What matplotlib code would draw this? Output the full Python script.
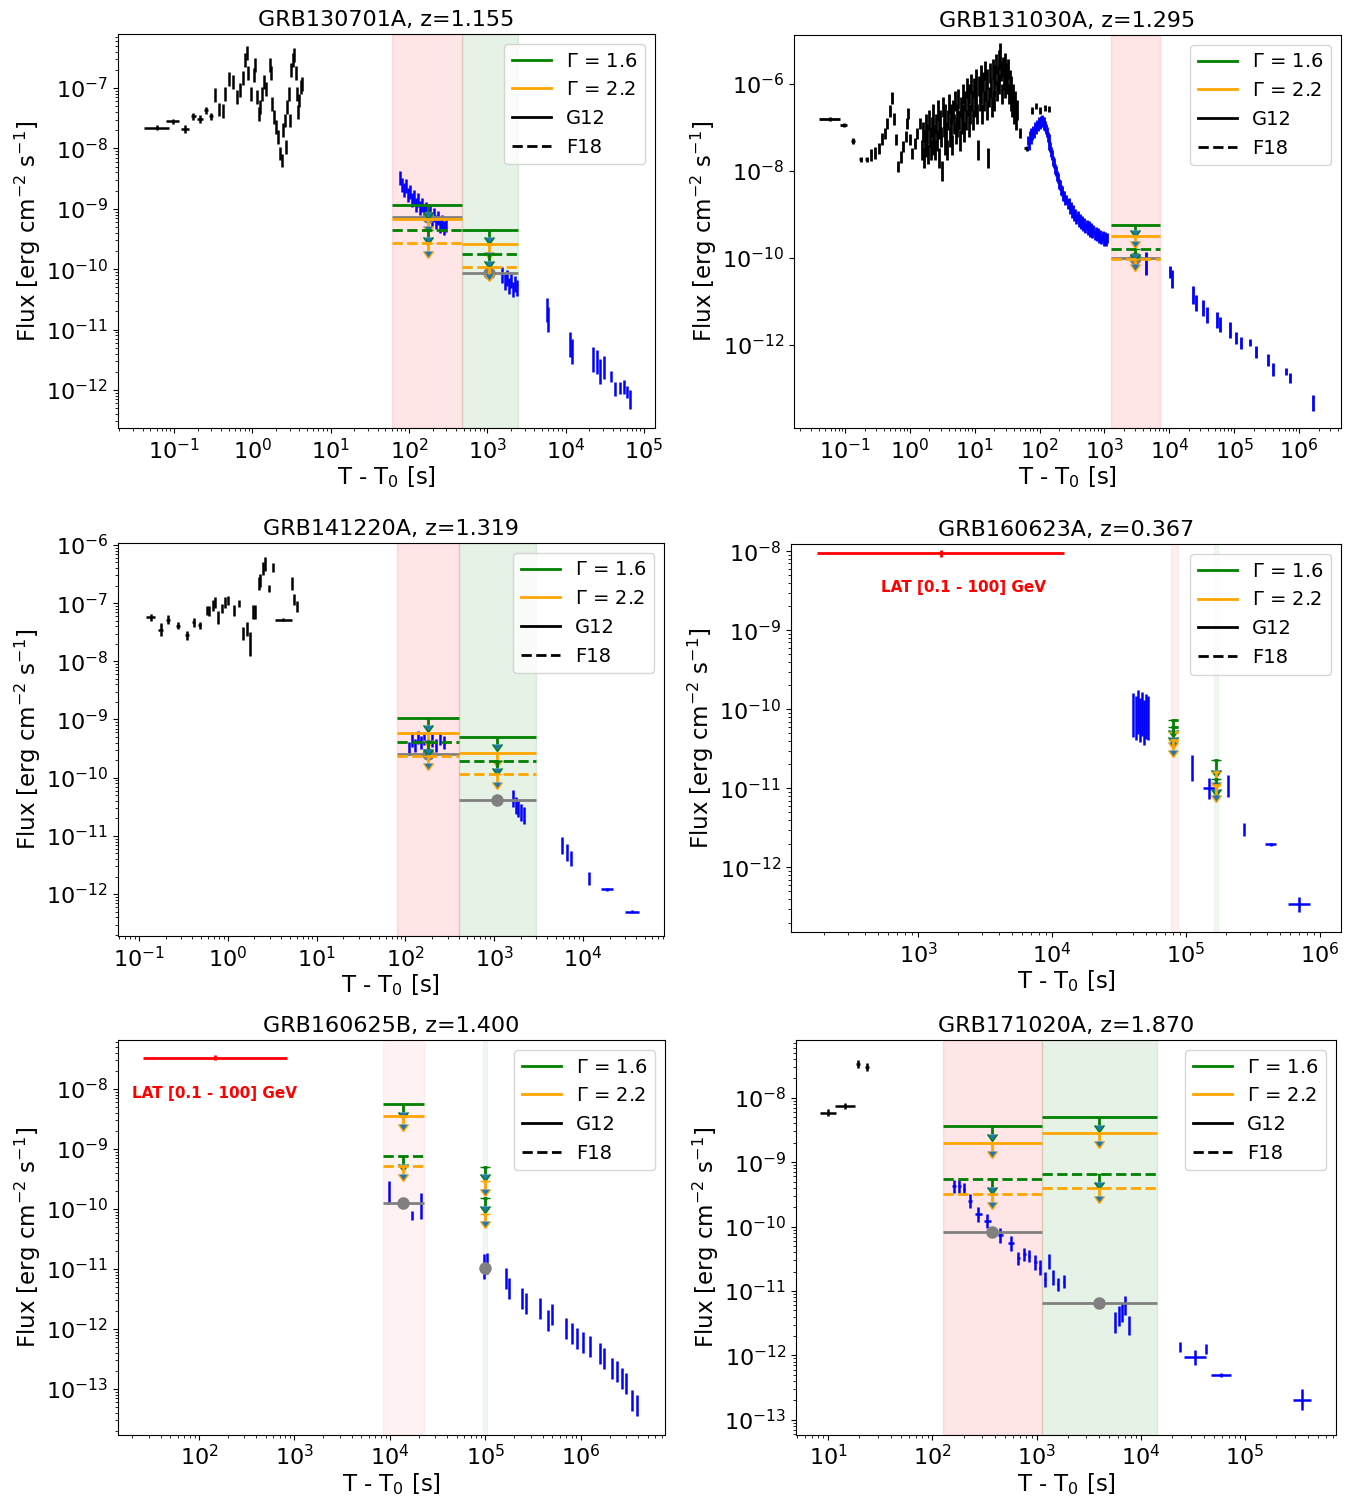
import numpy as np
import matplotlib.pyplot as plt
from matplotlib.lines import Line2D

plt.rcParams['font.size'] = 16

# ---------------- GRB130701A ----------------
p1_bat_t = [0.060, 0.096, 0.139, 0.176, 0.215, 0.256, 0.294, 0.337, 0.372, 0.419,
            0.452, 0.508, 0.57, 0.63, 0.70, 0.77, 0.81, 0.85, 0.89, 0.96,
            1.04, 1.08, 1.15, 1.22, 1.27, 1.34, 1.42, 1.50, 1.66, 1.73,
            1.80, 1.91, 2.0, 2.16, 2.28, 2.37, 2.46, 2.61, 2.67, 2.78,
            2.90, 3.0, 3.15, 3.3, 3.44, 3.6, 3.7, 3.86, 4.0, 4.15, 4.3]
p1_bat_f = [2.2e-8, 2.8e-8, 2.1e-8, 3.4e-8, 3.05e-8, 4.25e-8, 3.4e-8, 7.7e-8, 4.4e-8, 4.15e-8,
            8.0e-8, 1.39e-7, 1.26e-7, 7.2e-8, 9.3e-8, 1.48e-7, 2.9e-7, 3.8e-7, 1.75e-7, 8.0e-8,
            1.64e-7, 2.4e-7, 7.1e-8, 3.75e-8, 4.8e-8, 8e-8, 1.26e-7, 9.7e-8, 2.4e-7, 1.75e-7,
            5.5e-8, 3.3e-8, 2.25e-8, 1.55e-8, 8.2e-9, 6.3e-9, 2.0e-8, 2.9e-8, 1.05e-8, 4.8e-8,
            8e-8, 2.9e-8, 2.0e-7, 2.9e-7, 3.5e-7, 1.75e-7, 8e-8, 4.0e-8, 6.2e-8, 1.03e-7, 1.17e-7]
p1_bat_dt = [1.45, 1.2, 1.12, 1.08, 1.08, 1.07, 1.06] + [1.0] * 44
p1_bat_df = [1.1, 1.1, 1.15, 1.15, 1.15, 1.15, 1.15] + [1.3] * 44

p1_xrt_t = [76.7, 81.5, 86.3, 91.6, 97.1, 103, 109, 116, 123, 130, 138, 147, 155, 165,
            175, 185, 197, 209, 221, 235, 249, 264, 280, 297,
            1540, 1680, 1790, 1890, 2010, 2130, 2260, 2390,
            5780, 5960, 11400, 12100, 22400, 25200, 27500,
            30700, 38000, 42800, 49500, 55200, 60300, 66400]
p1_xrt_f = [3.26e-9, 2.5e-9, 2.07e-9, 2.4e-9, 1.7e-9, 1.9e-9, 1.41e-9, 1.58e-9, 1.16e-9, 1.41e-9,
            1.04e-9, 1.16e-9, 8.9e-10, 1.0e-9, 7.66e-10, 8.9e-10, 6.8e-10, 7.9e-10, 6.1e-10, 7.1e-10,
            5.2e-10, 6.1e-10, 4.8e-10, 5.4e-10,
            8.1e-11, 6.2e-11, 7.2e-11, 5.3e-11, 6.7e-11, 4.6e-11, 5.7e-11, 4.9e-11,
            2.1e-11, 1.45e-11, 5.6e-12, 4.3e-12, 3.16e-12, 2.9e-12, 2.0e-12,
            2.33e-12, 1.66e-12, 1.05e-12, 1.09e-12, 1.13e-12, 9.3e-13, 6.9e-13]
p1_xrt_df = [1.3] * 24 + [1.35] * 8 + [1.6] * 7 + [1.55, 1.25, 1.3, 1.25, 1.3, 1.25, 1.45]

p1_edges = [(60, 475), (475, 2500)]
p1_g16 = [1.17e-9, 4.5e-10]
p1_g22 = [6.8e-10, 2.6e-10]
p1_g16_f18 = [4.5e-10, 1.8e-10]
p1_g22_f18 = [2.7e-10, 1.1e-10]
p1_obs_t = [175, 1060]
p1_obs_f = [7.4e-10, 8.6e-11]

# ---------------- GRB131030A ----------------
p2_bat_t = [0.058, 0.096, 0.134, 0.174, 0.215, 0.254, 0.286, 0.33, 0.376, 0.41,
            0.45, 0.49, 0.53, 0.57, 0.61, 0.66, 0.72, 0.79, 0.86, 0.91,
            0.93, 1.0, 1.09, 1.19, 1.30, 1.43,
            1.55, 1.6, 1.65, 1.7, 1.75, 1.8, 1.86, 1.92, 1.98, 2.04,
            2.1, 2.17, 2.24, 2.31, 2.38, 2.45, 2.53, 2.61, 2.69, 2.77,
            2.86, 2.95, 3.04, 3.13, 3.23, 3.33, 3.43, 3.54, 3.65, 3.76,
            3.88, 4.0, 4.12, 4.25, 4.38, 4.52, 4.66, 4.8, 4.95, 5.1,
            5.26, 5.42, 5.59, 5.76, 5.94, 6.12, 6.31, 6.51, 6.71, 6.92,
            7.13, 7.35, 7.58, 7.81, 8.05, 8.3, 8.56, 8.83, 9.1, 9.38,
            9.67, 9.97, 10.3, 10.6, 10.9, 11.3, 11.6, 12.0, 12.3, 12.7,
            13.1, 13.5, 13.9, 14.4, 14.8, 15.3, 15.7, 16.2, 16.7, 17.2,
            17.8, 18.3, 18.9, 19.5, 20.1, 20.7, 21.3, 22.0, 22.7, 23.4,
            24.1, 24.8, 25.6, 26.4, 27.2, 28.0, 28.9, 29.8, 30.7, 31.7,
            32.6, 33.6, 34.7, 35.7, 36.8, 38.0, 39.2, 40.4, 41.6, 42.9,
            44.2,
            49.5, 64, 77.7, 89.6, 103, 123, 142]
p2_bat_f = [1.57e-7, 1.14e-7, 4.9e-8, 1.86e-8, 1.86e-8, 2.33e-8, 2.6e-8, 3.3e-8, 5.4e-8, 7.3e-8,
            1.25e-7, 2.4e-7, 4.7e-7, 1.55e-7, 5.2e-8, 1.26e-8, 2.1e-8, 3.6e-8, 6.2e-8, 1.25e-7,
            2.1e-7, 5.2e-8, 2.55e-8, 4.3e-8, 7.3e-8, 1.25e-7,
            3e-8, 8e-8, 2e-8, 5e-8, 1.2e-7, 3.5e-8, 7e-8, 2.5e-8, 1.5e-7, 6e-8,
            3e-8, 1e-7, 4e-8, 2e-7, 7e-8, 3e-8, 1.2e-7, 5e-8, 2.5e-7, 9e-8,
            2e-8, 1.5e-7, 6e-8, 1e-8, 3e-7, 1e-7, 4e-8, 2e-7, 8e-8, 3e-8,
            1.5e-7, 3.5e-7, 6e-8, 2e-7, 1e-7, 4e-8, 2.5e-7, 1.2e-7, 4e-7, 7e-8,
            2e-7, 1e-7, 4.5e-7, 1.5e-7, 5e-8, 3e-7, 1.2e-7, 6e-7, 2e-7, 8e-8,
            4e-7, 1.5e-7, 8e-7, 3e-7, 1e-7, 6e-7, 2e-7, 1e-6, 4e-7, 1.5e-7,
            8e-7, 3e-7, 1.3e-6, 5e-7, 2e-7, 3e-8, 9e-7, 4e-7, 1.6e-6, 6e-7,
            2e-7, 1.1e-6, 4e-7, 2e-6, 7e-7, 2.5e-7, 1.3e-6, 2e-8, 5e-7, 1.8e-6,
            8e-7, 3e-7, 2.2e-6, 9e-7, 4e-7, 1.6e-6, 2.8e-6, 7e-7, 1.5e-6, 3.5e-6,
            1e-6, 5e-6, 2e-6, 6e-7, 2.5e-6, 1.2e-6, 3e-6, 8e-7, 1.8e-6, 1e-6,
            2.2e-6, 6e-7, 1.2e-6, 4e-7, 9e-7, 3e-7, 6e-7, 2e-7, 4e-7, 1.5e-7,
            2.5e-7,
            7.3e-8, 3.3e-8, 2.5e-7, 3.1e-7, 2.4e-7, 2.8e-7, 2.65e-7]
p2_bat_dt = [1.45, 1.13, 1.07, 1.05, 1.05] + [1.0] * 133 + [1.1] + [1.0] * 5
p2_bat_df = ([1.1, 1.1, 1.15, 1.15, 1.15] + [1.35] * 21 + [1.7] * 111
             + [1.3, 1.15, 1.2, 1.2, 1.2, 1.2, 1.2])

p2_xrt_t = [67, 69, 71, 73, 75, 77, 80, 83, 86, 89,
            92, 95, 98, 101, 104, 107, 110, 113, 116, 119,
            122, 126, 130, 134, 138, 142, 147, 152, 157, 162,
            168, 174, 180, 187, 194, 201, 208, 216, 224, 232,
            241, 250, 260, 270, 281, 292, 304, 316, 329, 342,
            356, 370, 385, 400, 417, 434, 452, 470, 490, 510,
            531, 553, 576, 600, 625, 651, 678, 706, 735, 765,
            797, 830, 864, 900, 937, 976, 1016, 1058, 1100,
            4440, 10400, 11200, 23500, 26200, 33500, 38600, 55100, 61200, 87300, 108000,
            129000, 178000, 220000, 336000, 402000, 637000, 734000, 1.66e6]
p2_xrt_f = [5e-8, 4e-8, 6.5e-8, 5.5e-8, 7.5e-8, 6.5e-8, 8.5e-8, 7.5e-8, 1e-7, 9e-8,
            1.15e-7, 1.05e-7, 1.3e-7, 1.2e-7, 1.4e-7, 1.3e-7, 1.45e-7, 1.3e-7, 1.35e-7, 1.15e-7,
            1.1e-7, 9e-8, 8e-8, 6e-8, 5.5e-8, 4e-8, 3.6e-8, 2.7e-8, 2.3e-8, 1.7e-8,
            1.5e-8, 1.1e-8, 1e-8, 7.5e-9, 6.8e-9, 5e-9, 4.8e-9, 3.6e-9, 3.5e-9, 2.7e-9,
            2.7e-9, 2.1e-9, 2.2e-9, 1.7e-9, 1.8e-9, 1.35e-9, 1.5e-9, 1.1e-9, 1.25e-9, 9e-10,
            1.05e-9, 7.8e-10, 9e-10, 6.8e-10, 8e-10, 6e-10, 7e-10, 5.3e-10, 6.3e-10, 4.8e-10,
            5.8e-10, 4.4e-10, 5.3e-10, 4e-10, 4.8e-10, 3.7e-10, 4.4e-10, 3.4e-10, 4e-10, 3.1e-10,
            3.7e-10, 2.9e-10, 3.4e-10, 2.7e-10, 3.2e-10, 2.5e-10, 3e-10, 2.4e-10, 2.8e-10,
            7.4e-11, 4.7e-11, 3.3e-11, 1.41e-11, 9.2e-12, 7.1e-12, 4.9e-12, 3.76e-12, 2.9e-12,
            2.2e-12, 1.45e-12, 1.11e-12, 1.11e-12, 6.9e-13, 4.5e-13, 2.7e-13, 2.4e-13, 1.74e-13,
            4.6e-14]
p2_xrt_df = [1.3] * 79 + [1.8, 1.35, 1.6, 1.6, 1.5, 1.5, 1.5, 1.5, 1.5, 1.5, 1.4,
                          1.4, 1.2, 1.4, 1.4, 1.4, 1.2, 1.3, 1.5]

p2_edges = [(1280, 7300)]
p2_g16 = [5.7e-10]
p2_g22 = [3.2e-10]
p2_g16_f18 = [1.6e-10]
p2_g22_f18 = [9.5e-11]
p2_obs_t = [3000]
p2_obs_f = [1.0e-10]

# ---------------- GRB141220A ----------------
p3_bat_t = [0.135, 0.175, 0.213, 0.274, 0.349, 0.416, 0.486, 0.578, 0.618, 0.686,
            0.723, 0.78, 0.86, 0.94, 1.01, 1.17, 1.35, 1.47, 1.66, 1.78,
            1.91, 2.04, 2.23, 2.31, 2.48, 2.61, 2.94, 3.27, 4.22, 5.3, 5.6, 6.0]
p3_bat_f = [5.7e-8, 3.5e-8, 5.2e-8, 4.1e-8, 2.8e-8, 4.7e-8, 4.2e-8, 7.5e-8, 7.3e-8, 9.1e-8,
            1.03e-7, 5.6e-8, 8.0e-8, 1.03e-7, 1.1e-7, 7.5e-8, 9.7e-8, 3.0e-8, 3.6e-8, 2.0e-8,
            7.0e-8, 7.0e-8, 2.15e-7, 2.45e-7, 3.9e-7, 4.7e-7, 1.8e-7, 4.1e-7, 5.2e-8, 2.2e-7,
            1.14e-7, 8.8e-8]
p3_bat_dt = [1.13, 1.06, 1.05, 1.06, 1.06, 1.04, 1.04] + [1.0] * 21 + [1.24, 1.0, 1.0, 1.0]
p3_bat_df = [1.15, 1.3, 1.2, 1.15, 1.2, 1.2, 1.15, 1.2, 1.2, 1.25, 1.25, 1.3, 1.2, 1.25,
             1.2, 1.25, 1.15, 1.3, 1.3, 1.6, 1.3, 1.3, 1.3, 1.3, 1.3, 1.3, 1.15, 1.2,
             1.05, 1.3, 1.25, 1.25]

p3_xrt_t = [111, 120, 130, 140, 152, 164, 182, 202, 224, 248, 276,
            1615, 1750, 1885, 1990, 2150, 5770, 6560, 7280, 11600, 18600, 35600]
p3_xrt_f = [3.2e-10, 4.35e-10, 3.6e-10, 4.9e-10, 4.0e-10, 4.7e-10, 3.6e-10, 4.35e-10,
            3.6e-10, 4.7e-10, 4.0e-10,
            4.4e-11, 3.3e-11, 2.95e-11, 2.5e-11, 2.24e-11, 6.8e-12, 5.2e-12, 4.1e-12,
            1.85e-12, 1.2e-12, 5.0e-13]
p3_xrt_dt = [1.0] * 19 + [1.0, 1.17, 1.2]
p3_xrt_df = [1.3] * 11 + [1.4] * 5 + [1.4, 1.4, 1.35, 1.3, 1.05, 1.06]

p3_edges = [(81, 406), (406, 3000)]
p3_g16 = [1.08e-9, 5.0e-10]
p3_g22 = [5.9e-10, 2.7e-10]
p3_g16_f18 = [4.1e-10, 1.95e-10]
p3_g22_f18 = [2.4e-10, 1.14e-10]
p3_obs_t = [180, 1070]
p3_obs_f = [2.6e-10, 4.2e-11]

# ---------------- GRB160623A ----------------
p4_xrt_t = [40200, 42300, 43800, 45400, 47000, 48600, 50300, 52000,
            111000, 148000, 206000, 271000, 430000, 697000]
p4_xrt_f = [8.4e-11, 7.7e-11, 9.2e-11, 7.3e-11, 8.6e-11, 6.8e-11, 8.1e-11, 7.7e-11,
            1.8e-11, 1.0e-11, 1.06e-11, 3.0e-12, 1.95e-12, 3.4e-13]
p4_xrt_dt = [1.0] * 9 + [1.11, 1.0, 1.0, 1.1, 1.2]
p4_xrt_df = [1.9] * 8 + [1.45, 1.35, 1.37, 1.2, 1.05, 1.25]

p4_edges = [(77000, 87000), (162000, 173000)]
p4_g16 = [7.3e-11, 2.3e-11]
p4_g22 = [5.1e-11, 1.6e-11]
p4_g16_f18 = [5.9e-11, 1.3e-11]
p4_g22_f18 = [4.1e-11, 1.1e-11]
p4_arrow_t = [80000, 168000]

p4_lat_t, p4_lat_tlo, p4_lat_thi, p4_lat_f = 1480, 176, 12300, 9.4e-9

# ---------------- GRB160625B ----------------
p5_xrt_t = [9760, 17100, 21100, 96400, 104000,
            164000, 176000, 241000, 265000, 372000, 451000, 497000, 697000, 805000, 908000,
            1.05e6, 1.24e6, 1.58e6, 1.74e6, 2.11e6, 2.38e6, 2.69e6, 2.96e6, 3.42e6, 3.86e6]
p5_xrt_f = [1.9e-10, 7.7e-11, 1.12e-10, 1.09e-11, 1.22e-11,
            6.9e-12, 4.7e-12, 3.2e-12, 2.64e-12, 2.18e-12, 1.38e-12, 1.73e-12, 1.02e-12,
            8.4e-13, 6.9e-13, 5.9e-13, 5.1e-13, 3.9e-13, 3.2e-13, 2.2e-13, 1.96e-13, 1.5e-13,
            1.24e-13, 6.5e-14, 5.3e-14]
p5_xrt_df = [1.55, 1.19, 1.65, 1.6, 1.5] + [1.5] * 20

p5_edges = [(8450, 22700), (95000, 105000)]
p5_g16 = [5.5e-9, 5.0e-10]
p5_g22 = [3.5e-9, 2.9e-10]
p5_g16_f18 = [7.6e-10, 1.5e-10]
p5_g22_f18 = [5.1e-10, 8.3e-11]
p5_obs_t = [13800, 100000]
p5_obs_f = [1.25e-10, 1.04e-11]

p5_lat_t, p5_lat_tlo, p5_lat_thi, p5_lat_f = 147, 26, 835, 3.3e-8

# ---------------- GRB171020A ----------------
p6_bat_t = [10, 14.6, 19.4, 23.7]
p6_bat_f = [5.9e-9, 7.5e-9, 3.4e-8, 3.0e-8]
p6_bat_dt = [1.19, 1.25, 1.05, 1.05]
p6_bat_df = [1.15, 1.1, 1.15, 1.15]

p6_xrt_t = [162, 182, 202, 230, 277, 338, 448, 567, 670, 765, 849, 970, 1083, 1210,
            1322, 1435, 1590, 1813, 5600, 6120, 6590, 7080, 7620,
            23900, 33300, 42200, 58700, 352000]
p6_xrt_f = [4.2e-10, 4.2e-10, 3.8e-10, 2.5e-10, 1.55e-10, 1.22e-10, 7.3e-11, 5.5e-11,
            3.2e-11, 3.7e-11, 3.5e-11, 2.8e-11, 2.3e-11, 1.52e-11, 2.9e-11, 1.62e-11,
            1.27e-11, 1.4e-11, 3.25e-12, 4.1e-12, 4.6e-12, 5.9e-12, 2.9e-12,
            1.35e-12, 9.3e-13, 1.26e-12, 5.0e-13, 2.04e-13]
p6_xrt_dt = [1.04, 1.03, 1.03, 1.04, 1.07, 1.07, 1.06, 1.06, 1.03, 1.03, 1.02, 1.03,
             1.02, 1.02, 1.0, 1.0, 1.02, 1.02] + [1.0] * 5 + [1.0, 1.27, 1.0, 1.25, 1.22]
p6_xrt_df = [1.25, 1.25, 1.25, 1.3, 1.3, 1.3, 1.3, 1.3, 1.25, 1.25, 1.25, 1.3, 1.3,
             1.3, 1.3, 1.3, 1.25, 1.25] + [1.45, 1.45, 1.4, 1.4, 1.4] + [1.2, 1.3, 1.2, 1.08, 1.45]

p6_edges = [(128, 1117), (1117, 14200)]
p6_g16 = [3.7e-9, 5.0e-9]
p6_g22 = [2.0e-9, 2.8e-9]
p6_g16_f18 = [5.5e-10, 6.5e-10]
p6_g22_f18 = [3.2e-10, 4.0e-10]
p6_obs_t = [375, 3960]
p6_obs_f = [8.3e-11, 6.4e-12]


def points(ax, t, f, df, dt=None, color='k', lw=1.8):
    t = np.asarray(t, float)
    f = np.asarray(f, float)
    df = np.broadcast_to(np.asarray(df, float), f.shape)
    yerr = [f - f / df, f * df - f]
    xerr = None
    if dt is not None:
        dt = np.broadcast_to(np.asarray(dt, float), t.shape)
        xerr = [t - t / dt, t * dt - t]
    ax.errorbar(t, f, yerr=yerr, xerr=xerr, fmt='none', ecolor=color,
                elinewidth=lw, zorder=3)


def limits(ax, edges, g16, g22, g16f, g22f, arrow_t, obs_f=None):
    for i, (lo, hi) in enumerate(edges):
        x = arrow_t[i]
        if obs_f is not None:
            ax.errorbar(x, obs_f[i], xerr=[[x - lo], [hi - x]], fmt='o', color='grey',
                        ms=8, elinewidth=2, zorder=4)
        for vals, c, ls in [(g16, 'green', '-'), (g22, 'orange', '-'),
                            (g16f, 'green', '--'), (g22f, 'orange', '--')]:
            ax.hlines(vals[i], lo, hi, colors=c, linestyles=ls, lw=2, zorder=5)
            ax.errorbar(x, vals[i], yerr=0.25 * vals[i], uplims=True, fmt='none',
                        ecolor=c, elinewidth=2, capsize=3.5, zorder=5)


def shade(ax, edges, alphas):
    colors = ['red', 'green']
    for (lo, hi), c, a in zip(edges, colors, alphas):
        ax.axvspan(lo, hi, color=c, alpha=a, zorder=0)


def lat(ax, t, tlo, thi, f, tx, ty):
    ax.errorbar(t, f, xerr=[[t - tlo], [thi - t]], yerr=0.1 * f, fmt='none',
                ecolor='red', elinewidth=2, zorder=3)
    ax.text(tx, ty, 'LAT [0.1 - 100] GeV', color='red', fontsize=11,
            fontweight='bold', ha='center', va='center')


def finish(ax, title, xlim, ylim):
    ax.set_xscale('log')
    ax.set_yscale('log')
    ax.set_xlim(*xlim)
    ax.set_ylim(*ylim)
    ax.set_title(title, fontsize=16)
    ax.set_xlabel(r'T - T$_0$ [s]', fontsize=16.5, labelpad=1)
    ax.set_ylabel(r'Flux [erg cm$^{-2}$ s$^{-1}$]', fontsize=16.5, labelpad=2)
    handles = [Line2D([], [], color='green', lw=2), Line2D([], [], color='orange', lw=2),
               Line2D([], [], color='black', lw=2), Line2D([], [], color='black', lw=2, ls='--')]
    ax.legend(handles, [r'$\Gamma$ = 1.6', r'$\Gamma$ = 2.2', 'G12', 'F18'],
              loc='upper right', fontsize=14)


fig = plt.figure(figsize=(13.65, 14.99), dpi=100)
pos = [[0.0864, 0.7145, 0.3934, 0.2628], [0.5817, 0.7145, 0.4007, 0.2622],
       [0.0864, 0.3756, 0.4000, 0.2622], [0.5795, 0.3782, 0.4029, 0.2588],
       [0.0864, 0.0430, 0.4007, 0.2632], [0.5832, 0.0430, 0.3956, 0.2632]]
axs = [fig.add_axes(p) for p in pos]

ax = axs[0]
shade(ax, p1_edges, [0.1, 0.1])
points(ax, p1_bat_t, p1_bat_f, p1_bat_df, p1_bat_dt, 'k')
points(ax, p1_xrt_t, p1_xrt_f, p1_xrt_df, None, 'blue')
limits(ax, p1_edges, p1_g16, p1_g22, p1_g16_f18, p1_g22_f18, p1_obs_t, p1_obs_f)
finish(ax, 'GRB130701A, z=1.155', (10 ** -1.715, 10 ** 5.14), (10 ** -12.63, 10 ** -6.106))

ax = axs[1]
shade(ax, p2_edges, [0.1])
points(ax, p2_bat_t, p2_bat_f, p2_bat_df, p2_bat_dt, 'k', lw=2)
points(ax, p2_xrt_t, p2_xrt_f, p2_xrt_df, None, 'blue', lw=2)
limits(ax, p2_edges, p2_g16, p2_g22, p2_g16_f18, p2_g22_f18, p2_obs_t, p2_obs_f)
finish(ax, 'GRB131030A, z=1.295', (10 ** -1.786, 10 ** 6.647), (10 ** -13.91, 10 ** -4.874))

ax = axs[2]
shade(ax, p3_edges, [0.1, 0.1])
points(ax, p3_bat_t, p3_bat_f, p3_bat_df, p3_bat_dt, 'k')
points(ax, p3_xrt_t, p3_xrt_f, p3_xrt_df, p3_xrt_dt, 'blue')
limits(ax, p3_edges, p3_g16, p3_g22, p3_g16_f18, p3_g22_f18, p3_obs_t, p3_obs_f)
finish(ax, 'GRB141220A, z=1.319', (10 ** -1.237, 10 ** 4.914), (10 ** -12.72, 10 ** -5.966))

ax = axs[3]
shade(ax, p4_edges, [0.06, 0.05])
points(ax, p4_xrt_t, p4_xrt_f, p4_xrt_df, p4_xrt_dt, 'blue')
limits(ax, p4_edges, p4_g16, p4_g22, p4_g16_f18, p4_g22_f18, p4_arrow_t)
lat(ax, p4_lat_t, p4_lat_tlo, p4_lat_thi, p4_lat_f, 2170, 3.5e-9)
finish(ax, 'GRB160623A, z=0.367', (10 ** 2.052, 10 ** 6.157), (10 ** -12.82, 10 ** -7.91))

ax = axs[4]
shade(ax, p5_edges, [0.05, 0.05])
points(ax, p5_xrt_t, p5_xrt_f, p5_xrt_df, None, 'blue')
limits(ax, p5_edges, p5_g16, p5_g22, p5_g16_f18, p5_g22_f18, p5_obs_t, p5_obs_f)
lat(ax, p5_lat_t, p5_lat_tlo, p5_lat_thi, p5_lat_f, 144, 8.5e-9)
finish(ax, 'GRB160625B, z=1.400', (10 ** 1.152, 10 ** 6.88), (10 ** -13.76, 10 ** -7.186))

ax = axs[5]
shade(ax, p6_edges, [0.1, 0.1])
points(ax, p6_bat_t, p6_bat_f, p6_bat_df, p6_bat_dt, 'k')
points(ax, p6_xrt_t, p6_xrt_f, p6_xrt_df, p6_xrt_dt, 'blue')
limits(ax, p6_edges, p6_g16, p6_g22, p6_g16_f18, p6_g22_f18, p6_obs_t, p6_obs_f)
finish(ax, 'GRB171020A, z=1.870', (10 ** 0.693, 10 ** 5.873), (10 ** -13.23, 10 ** -7.102))

fig.savefig('out.png', dpi=100)
